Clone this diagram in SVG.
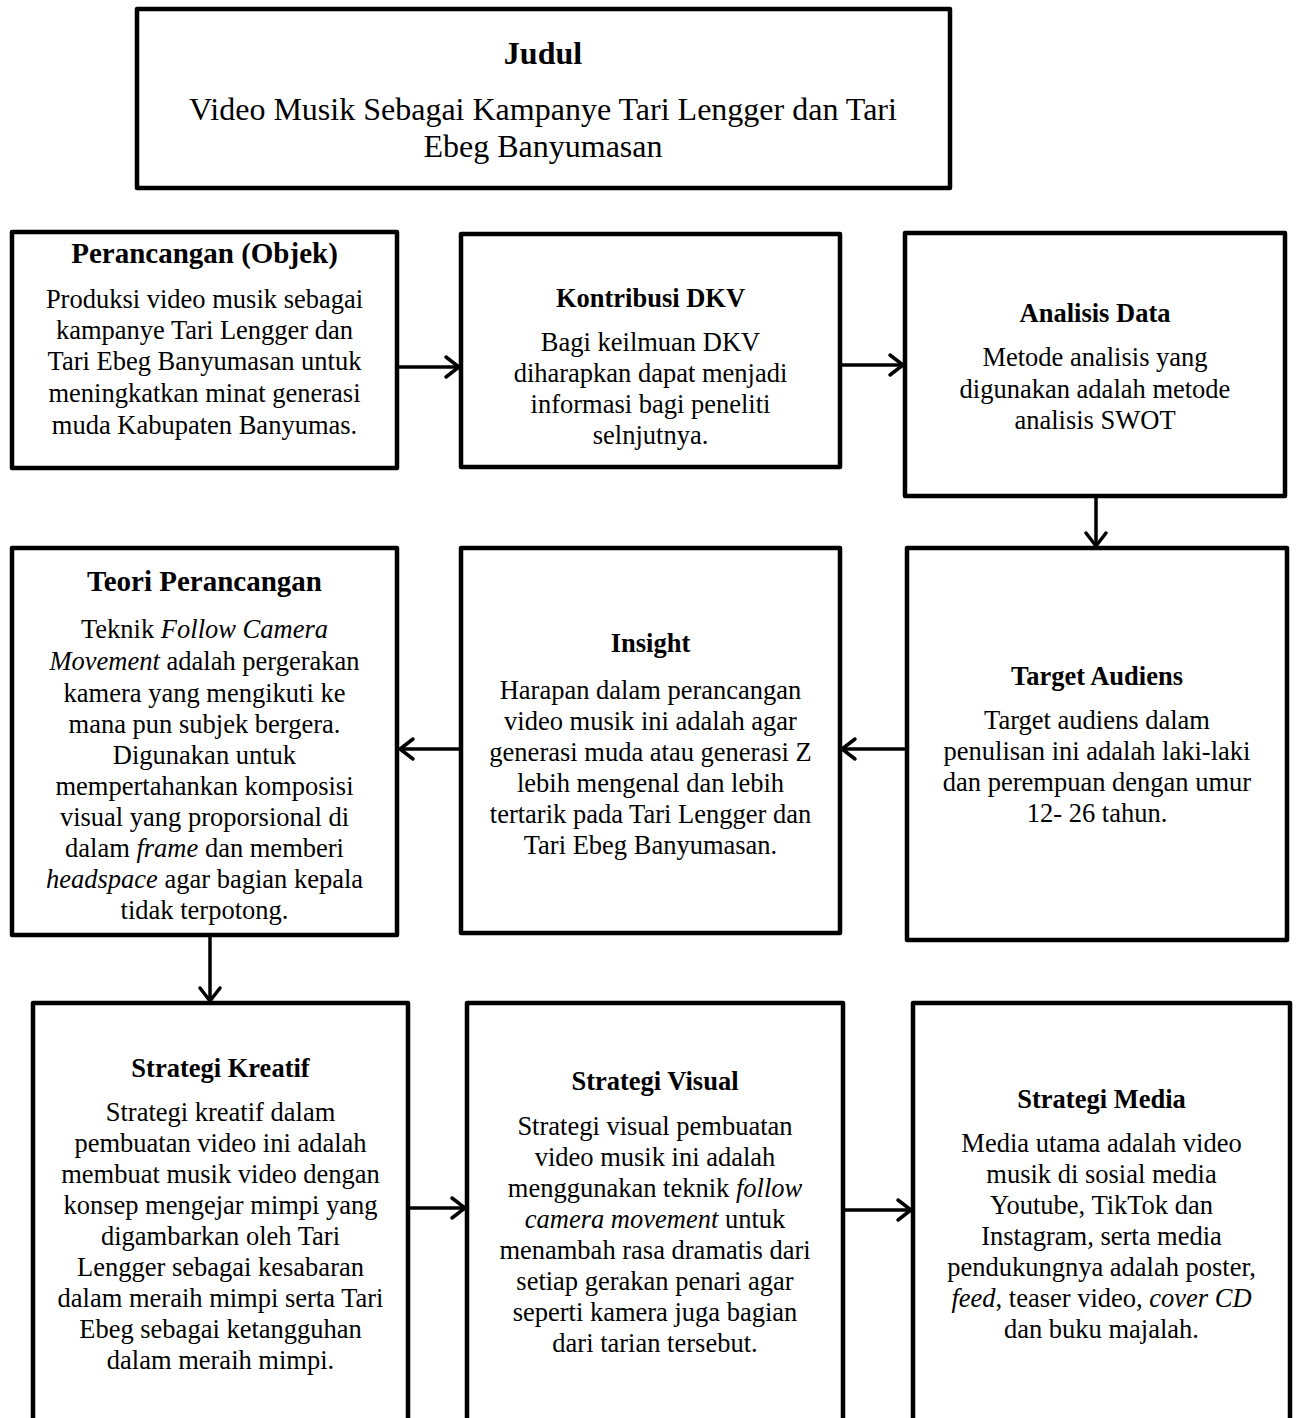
<svg xmlns="http://www.w3.org/2000/svg" width="1297" height="1418" viewBox="0 0 1297 1418">
<style>
.box{fill:#fff;stroke:#000;stroke-width:4.5;stroke-linejoin:round}
.t{font-family:"Liberation Serif","Times New Roman",serif;fill:#000;text-anchor:middle}
.h{font-weight:bold;font-size:26.5px}
.h2{font-weight:bold;font-size:29px}
.b{font-size:26.5px}
.big{font-size:32px}
.i{font-style:italic}
.con{fill:none;stroke:#000;stroke-width:3.5}
</style>
<defs>
<marker id="ah" markerWidth="24" markerHeight="26" refX="18" refY="13" orient="auto" markerUnits="userSpaceOnUse">
<path d="M5,3 L18,13 L5,23" fill="none" stroke="#000" stroke-width="3.5" stroke-linecap="round" stroke-linejoin="miter"/>
</marker>
</defs>
<rect width="1297" height="1418" fill="#fff"/>

<g id="judul">
<rect class="box" x="137" y="9" width="813" height="179" stroke-width="5"/>
<text class="t big" x="543" y="64" font-weight="bold">Judul</text>
<text class="t big" x="543" y="120">Video Musik Sebagai Kampanye Tari Lengger dan Tari</text>
<text class="t big" x="543" y="157">Ebeg Banyumasan</text>
</g>

<g id="perancangan">
<rect class="box" x="12" y="232" width="385" height="236"/>
<text class="t h2" x="204.5" y="263">Perancangan (Objek)</text>
<text class="t b" x="204.5" y="308">Produksi video musik sebagai</text>
<text class="t b" x="204.5" y="339">kampanye Tari Lengger dan</text>
<text class="t b" x="204.5" y="370">Tari Ebeg Banyumasan untuk</text>
<text class="t b" x="204.5" y="402">meningkatkan minat generasi</text>
<text class="t b" x="204.5" y="434">muda Kabupaten Banyumas.</text>
</g>

<g id="kontribusi">
<rect class="box" x="461" y="234" width="379" height="233"/>
<text class="t h" x="650.5" y="307">Kontribusi DKV</text>
<text class="t b" x="650.5" y="351">Bagi keilmuan DKV</text>
<text class="t b" x="650.5" y="382">diharapkan dapat menjadi</text>
<text class="t b" x="650.5" y="413">informasi bagi peneliti</text>
<text class="t b" x="650.5" y="444">selnjutnya.</text>
</g>

<g id="analisis">
<rect class="box" x="905" y="233" width="380" height="263"/>
<text class="t h" x="1095" y="322">Analisis Data</text>
<text class="t b" x="1095" y="366">Metode analisis yang</text>
<text class="t b" x="1095" y="398">digunakan adalah metode</text>
<text class="t b" x="1095" y="429">analisis SWOT</text>
</g>

<g id="teori">
<rect class="box" x="12" y="548" width="385" height="387"/>
<text class="t h2" x="204.5" y="591">Teori Perancangan</text>
<text class="t b" x="204.5" y="638">Teknik <tspan class="i">Follow Camera</tspan></text>
<text class="t b" x="204.5" y="670"><tspan class="i">Movement</tspan> adalah pergerakan</text>
<text class="t b" x="204.5" y="702">kamera yang mengikuti ke</text>
<text class="t b" x="204.5" y="733">mana pun subjek bergera.</text>
<text class="t b" x="204.5" y="764">Digunakan untuk</text>
<text class="t b" x="204.5" y="795">mempertahankan komposisi</text>
<text class="t b" x="204.5" y="826">visual yang proporsional di</text>
<text class="t b" x="204.5" y="857">dalam <tspan class="i">frame</tspan> dan memberi</text>
<text class="t b" x="204.5" y="888"><tspan class="i">headspace</tspan> agar bagian kepala</text>
<text class="t b" x="204.5" y="919">tidak terpotong.</text>
</g>

<g id="insight">
<rect class="box" x="461" y="548" width="379" height="385"/>
<text class="t h" x="650.5" y="652">Insight</text>
<text class="t b" x="650.5" y="699">Harapan dalam perancangan</text>
<text class="t b" x="650.5" y="730">video musik ini adalah agar</text>
<text class="t b" x="650.5" y="761">generasi muda atau generasi Z</text>
<text class="t b" x="650.5" y="792">lebih mengenal dan lebih</text>
<text class="t b" x="650.5" y="823">tertarik pada Tari Lengger dan</text>
<text class="t b" x="650.5" y="854">Tari Ebeg Banyumasan.</text>
</g>

<g id="target">
<rect class="box" x="907" y="548" width="380" height="392"/>
<text class="t h" x="1097" y="685">Target Audiens</text>
<text class="t b" x="1097" y="729">Target audiens dalam</text>
<text class="t b" x="1097" y="760">penulisan ini adalah laki-laki</text>
<text class="t b" x="1097" y="791">dan perempuan dengan umur</text>
<text class="t b" x="1097" y="822">12- 26 tahun.</text>
</g>

<g id="kreatif">
<path class="box" d="M33,1425 V1003 H408 V1425"/>
<text class="t h" x="220.5" y="1077">Strategi Kreatif</text>
<text class="t b" x="220.5" y="1121">Strategi kreatif dalam</text>
<text class="t b" x="220.5" y="1152">pembuatan video ini adalah</text>
<text class="t b" x="220.5" y="1183">membuat musik video dengan</text>
<text class="t b" x="220.5" y="1214">konsep mengejar mimpi yang</text>
<text class="t b" x="220.5" y="1245">digambarkan oleh Tari</text>
<text class="t b" x="220.5" y="1276">Lengger sebagai kesabaran</text>
<text class="t b" x="220.5" y="1307">dalam meraih mimpi serta Tari</text>
<text class="t b" x="220.5" y="1338">Ebeg sebagai ketangguhan</text>
<text class="t b" x="220.5" y="1369">dalam meraih mimpi.</text>
</g>

<g id="visual">
<path class="box" d="M467,1425 V1003 H843 V1425"/>
<text class="t h" x="655" y="1090">Strategi Visual</text>
<text class="t b" x="655" y="1135">Strategi visual pembuatan</text>
<text class="t b" x="655" y="1166">video musik ini adalah</text>
<text class="t b" x="655" y="1197">menggunakan teknik <tspan class="i">follow</tspan></text>
<text class="t b" x="655" y="1228"><tspan class="i">camera movement</tspan> untuk</text>
<text class="t b" x="655" y="1259">menambah rasa dramatis dari</text>
<text class="t b" x="655" y="1290">setiap gerakan penari agar</text>
<text class="t b" x="655" y="1321">seperti kamera juga bagian</text>
<text class="t b" x="655" y="1352">dari tarian tersebut.</text>
</g>

<g id="media">
<path class="box" d="M913,1425 V1003 H1290 V1425"/>
<text class="t h" x="1101.5" y="1108">Strategi Media</text>
<text class="t b" x="1101.5" y="1152">Media utama adalah video</text>
<text class="t b" x="1101.5" y="1183">musik di sosial media</text>
<text class="t b" x="1101.5" y="1214">Youtube, TikTok dan</text>
<text class="t b" x="1101.5" y="1245">Instagram, serta media</text>
<text class="t b" x="1101.5" y="1276">pendukungnya adalah poster,</text>
<text class="t b" x="1101.5" y="1307"><tspan class="i">feed</tspan>, teaser video, <tspan class="i">cover CD</tspan></text>
<text class="t b" x="1101.5" y="1338">dan buku majalah.</text>
</g>

<g id="connectors">
<path class="con" d="M397,367 H459" marker-end="url(#ah)"/>
<path class="con" d="M840,365 H903" marker-end="url(#ah)"/>
<path class="con" d="M1096,497 V546" marker-end="url(#ah)"/>
<path class="con" d="M907,749 H842" marker-end="url(#ah)"/>
<path class="con" d="M463,749 H400" marker-end="url(#ah)"/>
<path class="con" d="M210,935 V1001" marker-end="url(#ah)"/>
<path class="con" d="M408,1208 H465" marker-end="url(#ah)"/>
<path class="con" d="M843,1210 H911" marker-end="url(#ah)"/>
</g>
</svg>
